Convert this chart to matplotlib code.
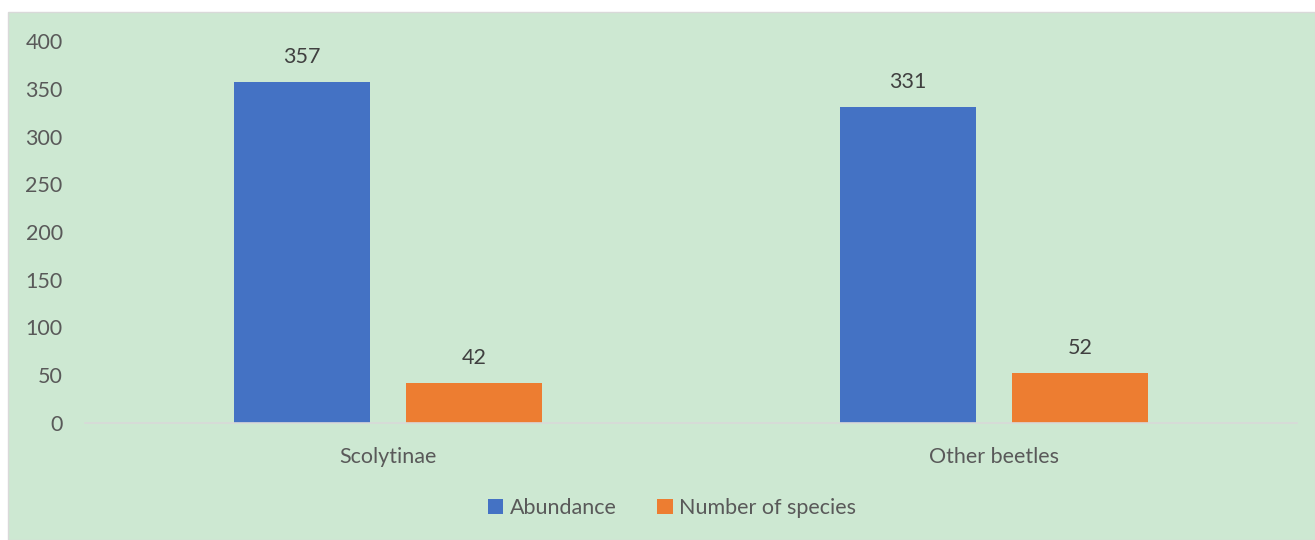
import numpy as np
import matplotlib.pyplot as plt
from matplotlib.patches import Rectangle

categories = ["Scolytinae", "Other beetles"]
abundance = [357, 331]
n_species = [42, 52]
series_names = ["Abundance", "Number of species"]
yticks = [0, 50, 100, 150, 200, 250, 300, 350, 400]

blue = "#4472C4"
orange = "#ED7D31"
bg = "#CDE8D2"

plt.rcParams["font.family"] = ["Lato", "DejaVu Sans"]

fig = plt.figure(figsize=(13.15, 5.4), dpi=100)
fig.patch.set_facecolor("white")
fig.patches.append(Rectangle((8 / 1315, 0), 1 - 8 / 1315, 1 - 12 / 540,
                             transform=fig.transFigure, facecolor=bg,
                             edgecolor="#D9D9D9", linewidth=1, zorder=-10))

ax = fig.add_axes([0.0646, 0.2167, 0.9217, 0.7073])
ax.set_facecolor("none")

x = np.arange(len(categories))
w = 0.2244
off = 0.142
b1 = ax.bar(x - off, abundance, w, color=blue, label=series_names[0], zorder=2)
b2 = ax.bar(x + off, n_species, w, color=orange, label=series_names[1], zorder=2)

for bars, vals in [(b1, abundance), (b2, n_species)]:
    for rect, v in zip(bars, vals):
        ax.annotate(str(v), (rect.get_x() + rect.get_width() / 2, v),
                    xytext=(0, 11), textcoords="offset points",
                    ha="center", va="bottom", fontsize=15.5, color="#404040")

ax.set_xlim(-0.5, 1.5)
ax.set_ylim(0, 400)
ax.set_yticks(yticks)
ax.set_xticks(x)
ax.set_xticklabels(categories)
ax.tick_params(axis="both", length=0, labelsize=15.5, labelcolor="#595959")
ax.tick_params(axis="x", pad=17)
ax.tick_params(axis="y", pad=16)
for s in ["top", "right", "left"]:
    ax.spines[s].set_visible(False)
ax.spines["bottom"].set_color("#D9D9D9")
ax.spines["bottom"].set_linewidth(1.2)

fig.legend(loc="center", bbox_to_anchor=(0.511, 0.059), ncol=2, frameon=False,
           fontsize=15.5, labelcolor="#595959", handlelength=0.72, handleheight=0.72,
           handletextpad=0.3, columnspacing=1.9)

fig.savefig("out.png", dpi=100)
